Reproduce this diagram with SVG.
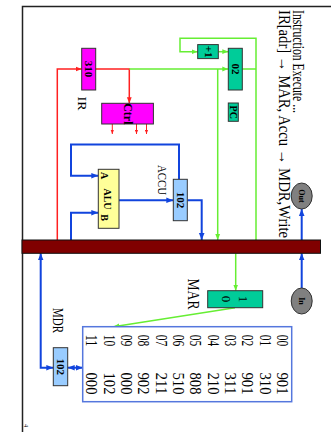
<svg xmlns="http://www.w3.org/2000/svg" width="331" height="432" viewBox="0 0 331 432">
<style>
text{font-family:"Liberation Serif","Times New Roman",serif;fill:#000}
.b{font-weight:bold}
.box{stroke:#333;stroke-width:1}
.mag{fill:#ff00ff}
.teal{fill:#00cc99}
.lb{fill:#99ccff}
.yel{fill:#ffff99}
.g{fill:none;stroke:#66ee33;stroke-width:1.5}
.bl{fill:none;stroke:#1144dd;stroke-width:2}
.r{fill:none;stroke:#ff2020;stroke-width:1.5}
.rt{fill:none;stroke:#ff2020;stroke-width:1}
</style>
<defs>
<marker id="ag" viewBox="0 0 10 10" refX="10" refY="5" markerWidth="6" markerHeight="6" orient="auto-start-reverse" markerUnits="userSpaceOnUse"><path d="M0,1 L10,5 L0,9z" fill="#66ee33"/></marker>
<marker id="ab" viewBox="0 0 10 10" refX="10" refY="5" markerWidth="7" markerHeight="7" orient="auto-start-reverse" markerUnits="userSpaceOnUse"><path d="M0,1 L10,5 L0,9z" fill="#1144dd"/></marker>
<marker id="ar" viewBox="0 0 10 10" refX="10" refY="5" markerWidth="6" markerHeight="6" orient="auto-start-reverse" markerUnits="userSpaceOnUse"><path d="M0,1 L10,5 L0,9z" fill="#ff2020"/></marker>
<marker id="ar2" viewBox="0 0 10 10" refX="10" refY="5" markerWidth="4" markerHeight="4" orient="auto" markerUnits="userSpaceOnUse"><path d="M0,1 L10,5 L0,9z" fill="#ff2020"/></marker>
</defs>
<rect width="331" height="432" fill="#fff"/>
<path d="M22.5,432 V6.5 H331" fill="none" stroke="#222" stroke-width="1.5"/>
<g id="titles">
<text transform="translate(293,61.5) rotate(90)" text-anchor="middle" font-size="16" textLength="103" lengthAdjust="spacingAndGlyphs">Instruction Execute ...</text>
<text transform="translate(278.5,124) rotate(90)" text-anchor="middle" font-size="17" textLength="228" lengthAdjust="spacingAndGlyphs">IR[adr] → MAR, Accu → MDR,Write</text>
<text transform="translate(24,425.5) rotate(90)" text-anchor="middle" font-size="6">4</text>
</g>
<g id="connectors">
<path class="r" d="M57.3,240 V69 H81.7" marker-end="url(#ar)"/>
<path class="r" d="M95.7,69 H129.3 V103.3" marker-end="url(#ar)"/>
<path class="rt" d="M112.3,124 V134" marker-end="url(#ar2)"/>
<path class="rt" d="M136.5,124 V134" marker-end="url(#ar2)"/>
<path class="rt" d="M146.5,124 V134" marker-end="url(#ar2)"/>
<path class="g" d="M129.3,69 H228.3" marker-end="url(#ag)"/>
<path class="g" d="M217.7,69 V240" marker-end="url(#ag)"/>
<path class="g" d="M242.3,69 H256"/>
<path class="g" d="M256,240 V38.3 H180 V51.7 H197.7" marker-end="url(#ag)"/>
<path class="g" d="M218.3,51.7 H228.3" marker-end="url(#ag)"/>
<path class="g" d="M235.7,253.3 V290.7" marker-end="url(#ag)"/>
<path class="g" d="M235,307.7 L113.3,326.7" marker-end="url(#ag)"/>
<path class="bl" d="M179,179.3 V144.5 H71 V175.7 H98.3" marker-end="url(#ab)"/>
<path class="bl" d="M71,240 V212.7 H98.3" marker-end="url(#ab)"/>
<path class="bl" d="M119,200.3 H173.3" marker-end="url(#ab)"/>
<path class="bl" d="M187.3,200.3 H201.7 V240" marker-end="url(#ab)"/>
<path class="bl" d="M301.7,240 V209" marker-end="url(#ab)"/>
<path class="bl" d="M301.7,288 V253.3" marker-end="url(#ab)"/>
<path class="bl" d="M40.7,253.3 V367.7 H53.3" marker-start="url(#ab)" marker-end="url(#ab)"/>
<path class="bl" d="M67.7,367.7 H82.7" marker-start="url(#ab)" marker-end="url(#ab)"/>
</g>
<g id="bus"><rect x="22" y="240" width="298.5" height="13.3" fill="#800000" stroke="#111" stroke-width="1"/></g>
<g id="ir">
<rect class="box mag" x="81.7" y="48.3" width="14" height="41.7"/>
<text class="b" transform="translate(84.7,69) rotate(90)" text-anchor="middle" font-size="11">310</text>
<text transform="translate(77.5,103.5) rotate(90)" text-anchor="middle" font-size="13" textLength="14" lengthAdjust="spacingAndGlyphs">IR</text>
</g>
<g id="ctrl">
<rect class="box mag" x="101.7" y="103.3" width="51.7" height="20.7"/>
<text class="b" transform="translate(123.5,113.8) rotate(90)" text-anchor="middle" font-size="12">Ctrl</text>
</g>
<g id="inc">
<rect class="box teal" x="197.7" y="44.6" width="20.6" height="14"/>
<text class="b" transform="translate(204.5,51.7) rotate(90)" text-anchor="middle" font-size="11">+1</text>
</g>
<g id="pc">
<rect class="box teal" x="228.3" y="48.3" width="14" height="41.7"/>
<text class="b" transform="translate(231.7,69) rotate(90)" text-anchor="middle" font-size="11">02</text>
<rect class="box teal" x="228.3" y="103" width="10" height="18.3"/>
<text class="b" transform="translate(230.2,112.2) rotate(90)" text-anchor="middle" font-size="10">PC</text>
</g>
<g id="alu">
<rect class="box yel" x="98.3" y="169.3" width="20.7" height="59"/>
<text class="b" transform="translate(100.5,175.5) rotate(90)" text-anchor="middle" font-size="10">A</text>
<text class="b" transform="translate(104,199) rotate(90)" text-anchor="middle" font-size="10">ALU</text>
<text class="b" transform="translate(100.5,217.5) rotate(90)" text-anchor="middle" font-size="10">B</text>
</g>
<g id="accu">
<rect class="box lb" x="173.3" y="179.3" width="14" height="41.4"/>
<text class="b" transform="translate(176.7,200) rotate(90)" text-anchor="middle" font-size="11">102</text>
<text transform="translate(158,180) rotate(90)" text-anchor="middle" font-size="13" textLength="30" lengthAdjust="spacingAndGlyphs">ACCU</text>
</g>
<g id="out">
<ellipse cx="301.7" cy="196" rx="10.5" ry="13" fill="#808080" stroke="#333"/>
<text class="b" transform="translate(299,196) rotate(90)" text-anchor="middle" font-size="8">Out</text>
</g>
<g id="in">
<ellipse cx="301.7" cy="301" rx="10.5" ry="13" fill="#808080" stroke="#333"/>
<text class="b" transform="translate(299,301) rotate(90)" text-anchor="middle" font-size="8">In</text>
</g>
<g id="mar">
<rect class="box teal" x="207.7" y="290.7" width="55" height="17"/>
<text transform="translate(238.5,299) rotate(90)" text-anchor="middle" font-size="13">1</text>
<text transform="translate(221.5,299) rotate(90)" text-anchor="middle" font-size="13">0</text>
<text transform="translate(187.5,294) rotate(90)" text-anchor="middle" font-size="16" textLength="31" lengthAdjust="spacingAndGlyphs">MAR</text>
</g>
<g id="mdr">
<rect class="box lb" x="53.3" y="347.7" width="14.4" height="38"/>
<text class="b" transform="translate(57,366.7) rotate(90)" text-anchor="middle" font-size="11">102</text>
<text transform="translate(53,320.5) rotate(90)" text-anchor="middle" font-size="14" textLength="25" lengthAdjust="spacingAndGlyphs">MDR</text>
</g>
<g id="memory" font-size="16">
<rect x="82.7" y="326.7" width="209" height="75" fill="#fff" stroke="#5577dd" stroke-width="1.5"/>
<text transform="translate(277,340.5) rotate(90)" text-anchor="middle" textLength="11.5" lengthAdjust="spacingAndGlyphs">00</text>
<text transform="translate(277,383.5) rotate(90)" text-anchor="middle" textLength="22" lengthAdjust="spacingAndGlyphs">901</text>
<text transform="translate(259.65,340.5) rotate(90)" text-anchor="middle" textLength="11.5" lengthAdjust="spacingAndGlyphs">01</text>
<text transform="translate(259.65,383.5) rotate(90)" text-anchor="middle" textLength="22" lengthAdjust="spacingAndGlyphs">310</text>
<text transform="translate(242.3,340.5) rotate(90)" text-anchor="middle" textLength="11.5" lengthAdjust="spacingAndGlyphs">02</text>
<text transform="translate(242.3,383.5) rotate(90)" text-anchor="middle" textLength="22" lengthAdjust="spacingAndGlyphs">901</text>
<text transform="translate(224.95,340.5) rotate(90)" text-anchor="middle" textLength="11.5" lengthAdjust="spacingAndGlyphs">03</text>
<text transform="translate(224.95,383.5) rotate(90)" text-anchor="middle" textLength="22" lengthAdjust="spacingAndGlyphs">311</text>
<text transform="translate(207.6,340.5) rotate(90)" text-anchor="middle" textLength="11.5" lengthAdjust="spacingAndGlyphs">04</text>
<text transform="translate(207.6,383.5) rotate(90)" text-anchor="middle" textLength="22" lengthAdjust="spacingAndGlyphs">210</text>
<text transform="translate(190.25,340.5) rotate(90)" text-anchor="middle" textLength="11.5" lengthAdjust="spacingAndGlyphs">05</text>
<text transform="translate(190.25,383.5) rotate(90)" text-anchor="middle" textLength="22" lengthAdjust="spacingAndGlyphs">808</text>
<text transform="translate(172.9,340.5) rotate(90)" text-anchor="middle" textLength="11.5" lengthAdjust="spacingAndGlyphs">06</text>
<text transform="translate(172.9,383.5) rotate(90)" text-anchor="middle" textLength="22" lengthAdjust="spacingAndGlyphs">510</text>
<text transform="translate(155.55,340.5) rotate(90)" text-anchor="middle" textLength="11.5" lengthAdjust="spacingAndGlyphs">07</text>
<text transform="translate(155.55,383.5) rotate(90)" text-anchor="middle" textLength="22" lengthAdjust="spacingAndGlyphs">211</text>
<text transform="translate(138.2,340.5) rotate(90)" text-anchor="middle" textLength="11.5" lengthAdjust="spacingAndGlyphs">08</text>
<text transform="translate(138.2,383.5) rotate(90)" text-anchor="middle" textLength="22" lengthAdjust="spacingAndGlyphs">902</text>
<text transform="translate(120.85,340.5) rotate(90)" text-anchor="middle" textLength="11.5" lengthAdjust="spacingAndGlyphs">09</text>
<text transform="translate(120.85,383.5) rotate(90)" text-anchor="middle" textLength="22" lengthAdjust="spacingAndGlyphs">000</text>
<text transform="translate(103.5,340.5) rotate(90)" text-anchor="middle" textLength="11.5" lengthAdjust="spacingAndGlyphs">10</text>
<text transform="translate(103.5,383.5) rotate(90)" text-anchor="middle" textLength="22" lengthAdjust="spacingAndGlyphs">102</text>
<text transform="translate(86.15,340.5) rotate(90)" text-anchor="middle" textLength="11.5" lengthAdjust="spacingAndGlyphs">11</text>
<text transform="translate(86.15,383.5) rotate(90)" text-anchor="middle" textLength="22" lengthAdjust="spacingAndGlyphs">000</text>
</g>
</svg>
